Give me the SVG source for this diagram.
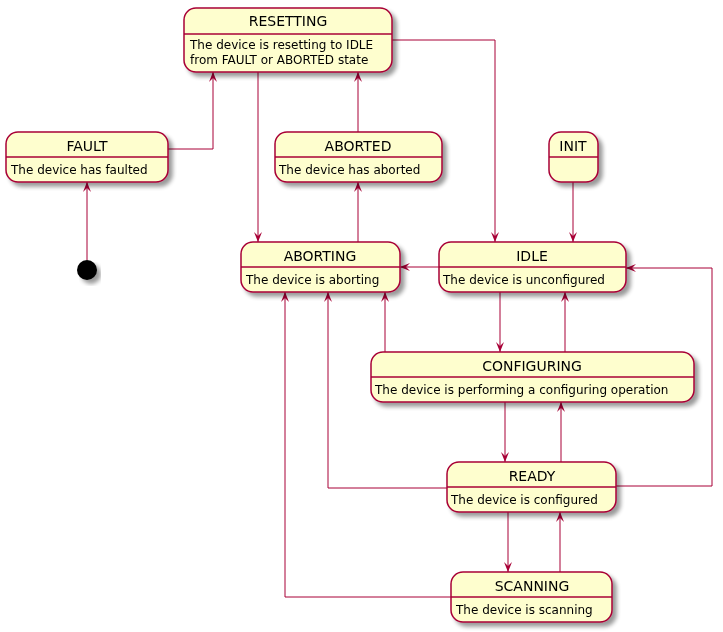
<svg xmlns="http://www.w3.org/2000/svg" width="723" height="632" viewBox="0 0 723 632">
<defs>
<filter id="sh" x="-10%" y="-10%" width="130%" height="140%"><feGaussianBlur in="SourceAlpha" stdDeviation="2"/><feOffset dx="4" dy="4"/><feComponentTransfer><feFuncA type="linear" slope="0.4"/></feComponentTransfer><feMerge><feMergeNode/><feMergeNode in="SourceGraphic"/></feMerge></filter>
<marker id="ar" viewBox="0 0 10 10" refX="10" refY="5" markerWidth="10" markerHeight="10" orient="auto" markerUnits="userSpaceOnUse"><path d="M0,1 L10,5 L0,9 L4,5 Z" fill="#A80036"/></marker>
</defs>
<style>
.n rect{fill:#FEFECE;stroke:#A80036;stroke-width:1.5}
.n line{stroke:#A80036;stroke-width:1.5}
text{font-family:"DejaVu Sans",sans-serif;font-size:13px;fill:#000}
.t{text-anchor:middle;font-size:14px}
.d{font-size:12px}
#edges path{fill:none;stroke:#A80036;stroke-width:1;marker-end:url(#ar)}
</style>
<rect width="723" height="632" fill="#fff"/>
<g id="edges">
<path d="M168,149 H213 V72"/>
<path d="M87,260 V182"/>
<path d="M358,132 V72"/>
<path d="M258,72 V242"/>
<path d="M392,40 H495 V242"/>
<path d="M358,242 V182"/>
<path d="M573,182 V242"/>
<path d="M439,267 H400"/>
<path d="M500,292 V352"/>
<path d="M565,352 V292"/>
<path d="M385,352 V292"/>
<path d="M505,402 V462"/>
<path d="M561,462 V402"/>
<path d="M447,488 H328 V292"/>
<path d="M616,486 H712 V268 H626"/>
<path d="M508,512 V572"/>
<path d="M560,572 V512"/>
<path d="M451,597 H285 V292"/>
</g>
<g id="RESETTING" class="n" filter="url(#sh)"><rect x="184" y="8" width="208" height="64" rx="12"/><line x1="184" y1="34" x2="392" y2="34"/><text class="t" x="288" y="26">RESETTING</text><text class="d" x="190" y="49">The device is resetting to IDLE</text><text class="d" x="190" y="64">from FAULT or ABORTED state</text></g>
<g id="FAULT" class="n" filter="url(#sh)"><rect x="6" y="132" width="162" height="50" rx="12"/><line x1="6" y1="157" x2="168" y2="157"/><text class="t" x="87" y="151">FAULT</text><text class="d" x="11" y="174">The device has faulted</text></g>
<g id="start" filter="url(#sh)"><circle cx="87" cy="270" r="10" fill="#000"/></g>
<g id="ABORTED" class="n" filter="url(#sh)"><rect x="275" y="132" width="167" height="50" rx="12"/><line x1="275" y1="157" x2="442" y2="157"/><text class="t" x="358" y="151">ABORTED</text><text class="d" x="279" y="174">The device has aborted</text></g>
<g id="INIT" class="n" filter="url(#sh)"><rect x="549" y="132" width="49" height="50" rx="12"/><line x1="549" y1="157" x2="598" y2="157"/><text class="t" x="573" y="151">INIT</text></g>
<g id="ABORTING" class="n" filter="url(#sh)"><rect x="241" y="242" width="159" height="50" rx="12"/><line x1="241" y1="267" x2="400" y2="267"/><text class="t" x="320" y="261">ABORTING</text><text class="d" x="246" y="284">The device is aborting</text></g>
<g id="IDLE" class="n" filter="url(#sh)"><rect x="439" y="242" width="187" height="50" rx="12"/><line x1="439" y1="267" x2="626" y2="267"/><text class="t" x="532" y="261">IDLE</text><text class="d" x="443" y="284">The device is unconfigured</text></g>
<g id="CONFIGURING" class="n" filter="url(#sh)"><rect x="371" y="352" width="323" height="50" rx="12"/><line x1="371" y1="377" x2="694" y2="377"/><text class="t" x="532" y="371">CONFIGURING</text><text class="d" x="375" y="394">The device is performing a configuring operation</text></g>
<g id="READY" class="n" filter="url(#sh)"><rect x="447" y="462" width="169" height="50" rx="12"/><line x1="447" y1="487" x2="616" y2="487"/><text class="t" x="532" y="481">READY</text><text class="d" x="451" y="504">The device is configured</text></g>
<g id="SCANNING" class="n" filter="url(#sh)"><rect x="451" y="572" width="161" height="50" rx="12"/><line x1="451" y1="597" x2="612" y2="597"/><text class="t" x="532" y="591">SCANNING</text><text class="d" x="456" y="614">The device is scanning</text></g>
</svg>
